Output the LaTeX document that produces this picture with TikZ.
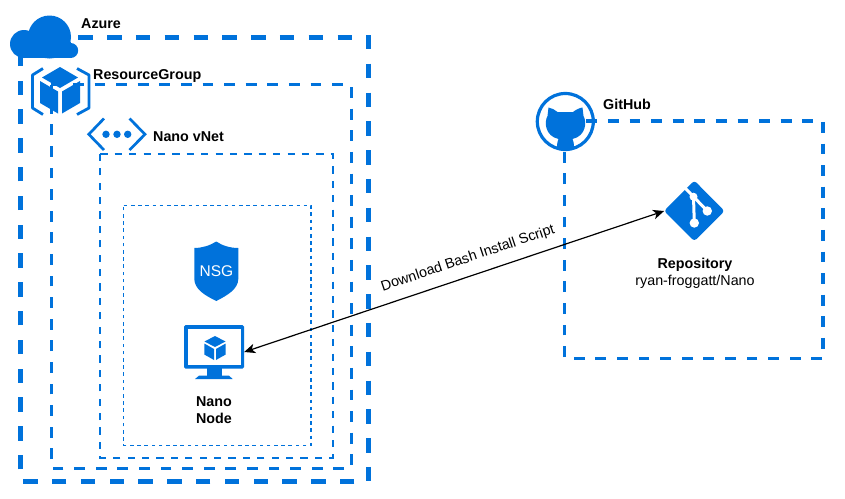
\documentclass[tikz,border=0pt]{standalone}
\usepackage{fontspec}
\setmainfont{Liberation Sans}
\usetikzlibrary{arrows.meta}
\definecolor{azb}{HTML}{0072DB}
\tikzset{
 x=1pt,y=-1pt,
 zone/.style={draw=azb,line cap=butt,line join=miter},
 ico/.style={fill=azb,draw=none},
 lbl/.style={font=\fontsize{14.3}{17.5}\selectfont,inner sep=0pt,text=black,align=center},
 blbl/.style={font=\fontsize{14.3}{17}\selectfont\bfseries,inner sep=0pt,text=black,align=center},
 hook/.style={inner sep=0pt,draw=none,fill=none},
 link/.style={>={Stealth[length=11pt,width=9.5pt,inset=3pt]},<->,black,line width=1.2pt},
}
\begin{document}
\begin{tikzpicture}
\useasboundingbox (0,0) rectangle (845,498);
\fill[white] (0,0) rectangle (845,498);
% zones, each dashed clockwise from its top-left corner
\draw[zone,line width=4.6pt,dash pattern=on 14.4pt off 14.4pt] (20.7,37.3) -- (368.7,37.3) -- (368.7,481.3) -- (20.7,481.3) -- cycle;
\draw[zone,line width=3.5pt,dash pattern=on 10.8pt off 10.8pt] (51.3,84.7) -- (351.3,84.7) -- (351.3,468.7) -- (51.3,468.7) -- cycle;
\draw[zone,line width=2.3pt,dash pattern=on 7.2pt off 7.2pt] (100.3,154.3) -- (333,154.3) -- (333,457.7) -- (100.3,457.7) -- cycle;
\draw[zone,line width=1.2pt,dash pattern=on 3.6pt off 3.6pt] (123.7,205.3) -- (311,205.3) -- (311,445.3) -- (123.7,445.3) -- cycle;
\draw[zone,line width=3.5pt,dash pattern=on 10.8pt off 10.8pt] (564.7,121) -- (823,121) -- (823,358.7) -- (564.7,358.7) -- cycle;
% cloud
\fill[azb] (24,44) circle (14pt);
\fill[azb] (49.5,37) circle (21.5pt);
\fill[azb] (70.7,50.5) circle (7.5pt);
\fill[azb] (24,42) rectangle (70.7,58);
% resource group icon
\draw[azb,line width=2.8pt,line join=round] (43,68.5) -- (32.5,75) -- (32.5,108) -- (43,114.5);
\draw[azb,line width=2.8pt,line join=round] (77,68.5) -- (89,75) -- (89,108) -- (77,114.5);
\path[ico] (60,67) -- (78,77.5) -- (60,88) -- (42,77.5) -- cycle;
\path[ico] (40,81) -- (58,91.5) -- (58,113.5) -- (40,103) -- cycle;
\path[ico] (80,81) -- (62,91.5) -- (62,113.5) -- (80,103) -- cycle;
% vnet icon
\draw[azb,line width=2.7pt] (104,118.5) -- (88.8,134.3) -- (104,150);
\draw[azb,line width=2.7pt] (129.5,118.5) -- (145,134.3) -- (129.5,150);
\foreach \xx in {106,117,127.7}{\fill[azb] (\xx,134.3) circle (3.7pt);}
% NSG
\path[ico] (216.3,241.5) .. controls (222,245.5) and (230,248) .. (238.3,248)
 -- (238.3,279) .. controls (238,289) and (228,295) .. (216.3,301)
 .. controls (204,295) and (194.6,289) .. (194.3,279) -- (194.3,248)
 .. controls (202,248) and (210,245.5) .. (216.3,241.5) -- cycle;
\node[font=\fontsize{15.5}{16}\selectfont,text=white,inner sep=0pt] (nsg) at (216.5,271) {NSG};
% monitor
\node[hook,minimum width=60pt,minimum height=54pt] (mon) at (214,352) {};
\fill[azb,rounded corners=1.5pt] (184,325) rectangle (244,368.5);
\fill[white] (187.5,329) rectangle (240.5,365);
\path[ico] (206.7,368) rectangle (221.7,376);
\path[ico] (195,379) -- (199,375.7) -- (229,375.7) -- (232.7,379) -- cycle;
\path[ico] (215,336) -- (225.5,341.5) -- (215,347) -- (204.5,341.5) -- cycle;
\path[ico] (204.3,343.5) -- (214,349) -- (214,360) -- (204.3,354.5) -- cycle;
\path[ico] (225.7,343.5) -- (216,349) -- (216,360) -- (225.7,354.5) -- cycle;
% github
\draw[azb,line width=3.2pt] (565.3,121.5) circle (28pt);
\path[ico] (548.5,107.5) .. controls (552,108) and (555,110) .. (557.5,112) -- (573,112)
 .. controls (575.5,110) and (579,108) .. (582.5,107.5)
 -- (583.5,116) .. controls (587,122) and (586,136) .. (572.5,139)
 .. controls (574,142) and (574,146) .. (574,149.5) -- (557,149.5)
 .. controls (557,146) and (557,142) .. (558.5,139)
 .. controls (545,136) and (544,122) .. (547.5,116) -- cycle;
% git icon
\node[hook,minimum width=60pt,minimum height=60pt] (repo) at (694.3,211) {};
\path[ico,rounded corners=3pt] (694.3,180.5) -- (724.5,211) -- (694.3,241.2) -- (664,211) -- cycle;
\draw[white,line width=3pt] (685,188) -- (693.5,196.7) -- (694.3,223);
\draw[white,line width=3pt] (693.5,196.7) -- (707.3,211);
\fill[white] (693.5,196.7) circle (4pt);
\fill[white] (707.3,211) circle (4.7pt);
\fill[white] (694.3,223) circle (4.7pt);
% connector
\draw[link] (mon.east) -- (repo.west)
 node[pos=0.546,sloped,above=10pt,lbl] (dl) {Download Bash Install Script};
% labels
\node[blbl,anchor=west] (azt) at (81,24) {Azure};
\node[blbl,anchor=west] (rgt) at (93,75.5) {ResourceGroup};
\node[blbl,anchor=west] (vnt) at (153,136.5) {Nano vNet};
\node[blbl] (nn) at (214,410) {Nano\\Node};
\node[blbl,anchor=west] (ght) at (603,104) {GitHub};
\node[lbl] (rp) at (695,273.5) {\textbf{Repository}\\ryan-froggatt/Nano};
\end{tikzpicture}
\end{document}
